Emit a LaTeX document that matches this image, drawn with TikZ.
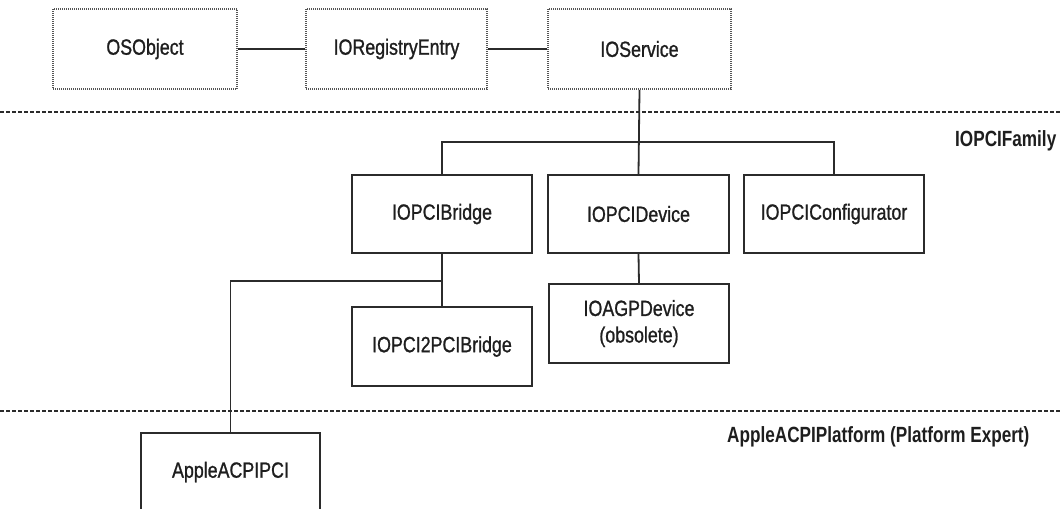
\documentclass[tikz,border=0pt]{standalone}
\usepackage{fontspec}
\setmainfont{Liberation Sans}
\newfontfamily\boxfont{Liberation Sans}[FakeStretch=0.81, FakeBold=1]
\newfontfamily\lblfont{Liberation Sans}[FakeStretch=0.78]
\definecolor{linecol}{HTML}{2B2B2B}
\definecolor{textcol}{HTML}{1E1E1E}
\definecolor{dotcol}{HTML}{555555}
\begin{document}
\begin{tikzpicture}[x=1pt,y=-1pt,
  box/.style={draw=linecol, line width=1.8pt, minimum width=180pt, minimum height=78pt,
    inner sep=0pt, font=\boxfont\fontsize{22}{26.5}\selectfont, text=textcol, align=center},
  dotbox/.style={box, draw=dotcol, dash pattern=on 1pt off 1pt, line width=1.8pt, minimum height=80pt},
  layer/.style={draw=linecol, line width=2.4pt, dash pattern=on 4pt off 2pt},
  lbl/.style={font=\lblfont\bfseries\fontsize{22}{26}\selectfont, text=textcol, anchor=west, inner sep=0pt},
  wire/.style={draw=linecol, line width=1.8pt}]
\clip (0,0) rectangle (1061,509);
\fill[white] (0,0) rectangle (1061,509);

% layer separators
\draw[layer] (0,112) -- (1061,112);
\draw[layer] (0,411) -- (1061,411);

% top row
\node[dotbox, minimum width=184pt] (osobject) at (145,49) {OSObject};
\node[dotbox, minimum width=181pt] (registry) at (396.5,49) {IORegistryEntry};
\node[dotbox, minimum width=183pt] (ioservice) at (639.5,49) {IOService};

% IOPCIFamily
\node[box] (bridge) at (442,214) {IOPCIBridge};
\node[box, minimum width=181pt] (device) at (638.5,214) {IOPCIDevice};
\node[box] (conf) at (834,214) {IOPCIConfigurator};
\node[box, minimum height=79pt] (p2p) at (442,346.5) {IOPCI2PCIBridge};
\node[box, minimum height=79pt] (agp) at (639,323.5) {IOAGPDevice\\(obsolete)};

% platform
\node[box, minimum width=179pt] (acpi) at (230.5,472) {AppleACPIPCI};

% labels
\node[lbl] (famlbl) at (955,141) {IOPCIFamily};
\node[lbl] (platlbl) at (727,437) {AppleACPIPlatform (Platform Expert)};

% helper coordinates
\coordinate (bus) at (0,142);
\coordinate (split) at (0,281);

% connectors
\draw[wire] (osobject.east) -- (registry.west);
\draw[wire] (registry.east) -- (ioservice.west);
\draw[wire] (ioservice.south) -- (device.north);
\draw[wire] (bridge.north) -- (bridge.north |- bus) -- (conf.north |- bus) -- (conf.north);
\draw[wire] (bridge.south) -- (p2p.north);
\draw[wire] (bridge.south |- split) -| (acpi.north);
\draw[wire] (device.south) -- (agp.north);
\end{tikzpicture}
\end{document}
